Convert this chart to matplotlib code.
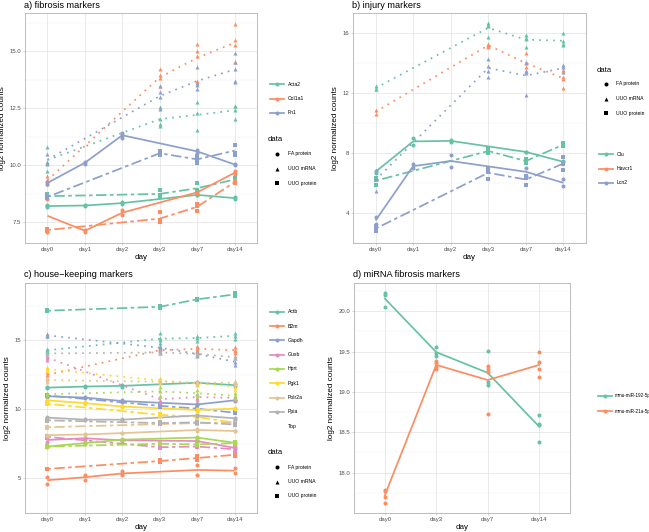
import matplotlib
matplotlib.use("Agg")
import matplotlib.pyplot as plt
from matplotlib.lines import Line2D
import numpy as np

plt.rcParams['font.family'] = ['Liberation Sans', 'DejaVu Sans']

# ---------------- data ----------------
ALL_DAYS = ["day0", "day1", "day2", "day3", "day7", "day14"]
FA_DAYS = ["day0", "day1", "day2", "day7", "day14"]
UUO_DAYS = ["day0", "day3", "day7", "day14"]
MIR_DAYS = ["day0", "day3", "day7", "day14"]
DATA_TYPES = ["FA protein", "UUO mRNA", "UUO protein"]

# a) fibrosis markers (replicate values per day)
ACTA2 = {
    "FA protein": [[8.15, 8.2, 8.25], [8.2, 8.25], [8.28, 8.38], [8.68, 8.7], [8.5, 8.6]],
    "UUO mRNA": [[10.8, 10.1, 9.75], [12.55, 12.0, 11.8, 11.7], [12.75, 12.3, 11.55], [12.6, 12.6, 12.4, 12.0]],
    "UUO protein": [[8.75, 8.6, 8.55], [8.9, 8.7, 8.6], [9.2, 8.9, 8.85], [9.45, 9.35, 9.3]],
}
COL1A1 = {
    "FA protein": [[8.5, 7.05], [7.15, 7.08], [8.02, 7.8], [8.82, 8.78], [9.6, 9.72]],
    "UUO mRNA": [[9.5, 9.35, 9.15], [14.2, 13.95, 13.8, 13.45], [15.3, 15.0, 14.8, 13.7], [16.2, 15.5, 15.25, 14.5]],
    "UUO protein": [[7.2, 7.1], [7.92, 7.55, 7.48], [8.3, 8.2, 8.0], [9.3, 9.25, 9.2]],
}
FN1 = {
    "FA protein": [[9.25, 9.18], [10.15, 10.05], [11.42, 11.3, 11.2], [10.65, 10.55], [10.05, 10.0]],
    "UUO mRNA": [[10.5, 10.05, 10.15], [13.45, 13.2, 13.0, 12.45], [14.3, 13.6, 13.5, 13.35], [14.9, 14.5, 14.2, 13.7, 13.65]],
    "UUO protein": [[8.65, 8.55], [10.6, 10.5, 10.45], [10.4, 10.25, 10.1], [10.9, 10.45, 10.55]],
}
A_GENES = ["Acta2", "Col1a1", "Fn1"]

# b) injury markers
CLU = {
    "FA protein": [[6.8, 6.7], [9.0, 8.55], [8.9, 8.72], [8.1, 8.05], [7.45, 7.38]],
    "UUO mRNA": [[12.45, 12.3, 12.25], [16.65, 16.55, 16.45, 15.75], [15.85, 15.7, 15.6, 15.1], [16.0, 15.5, 15.25, 15.2]],
    "UUO protein": [[6.35, 6.2, 5.9], [8.3, 8.1, 8.0], [7.6, 7.45, 7.35], [8.7, 8.55, 8.45]],
}
HAVCR1 = {
    "UUO mRNA": [[10.9, 10.6], [15.3, 15.2, 15.15, 15.1], [14.7, 14.05, 13.75, 13.5], [13.55, 13.05, 12.95, 12.35]],
}
LCN2 = {
    "FA protein": [[3.75, 3.25], [7.25, 7.0], [7.88, 7.06], [7.0, 6.5], [6.25, 5.78]],
    "UUO mRNA": [[6.85, 6.3, 5.45], [14.3, 13.8, 13.5, 13.1], [13.45, 13.35, 11.85, 14.0], [13.85, 13.75, 13.4]],
    "UUO protein": [[3.15, 2.82, 2.9], [7.0, 6.75, 6.3], [6.45, 5.9, 6.35], [7.75, 6.85, 7.3]],
}
B_GENES = ["Clu", "Havcr1", "Lcn2"]

# c) house-keeping markers
ACTB = {
    "FA protein": [[11.55, 11.6], [11.6, 11.7], [11.65, 11.75], [11.9, 11.95], [11.7, 11.8]],
    "UUO mRNA": [[14.4, 14.25, 14.2], [15.5, 15.2, 15.0, 14.8], [15.35, 15.2, 14.95], [15.55, 15.35, 15.1]],
    "UUO protein": [[17.1, 17.2], [17.35, 17.45, 17.5], [17.95, 18.0], [18.25, 18.4, 18.35]],
}
B2M = {
    "FA protein": [[5.12, 4.6], [5.25, 4.9], [5.5, 5.3, 5.25], [5.95, 5.25], [5.75, 5.35]],
    "UUO mRNA": [[12.7, 12.5, 12.3], [14.5, 14.35, 14.2, 14.1], [14.6, 14.45, 14.3, 14.2], [14.55, 14.3, 14.2, 14.1]],
    "UUO protein": [[5.7, 5.65], [6.3, 6.2], [6.6, 6.3, 6.5], [6.9, 6.6, 6.6]],
}
GAPDH = {
    "FA protein": [[11.0, 10.9], [10.9, 10.8], [10.65, 10.55], [10.4, 10.3], [10.7, 10.6]],
    "UUO mRNA": [[15.45, 15.35, 15.3], [14.6, 14.45, 14.35], [14.15, 14.0, 13.9], [13.7, 13.45, 13.2]],
    "UUO protein": [[11.05, 10.95], [10.3, 10.2], [10.1, 10.0], [9.8, 9.7]],
}
GUSB = {
    "FA protein": [[7.95, 7.6], [7.95, 7.85], [7.8, 7.7], [7.75, 7.65], [7.25, 7.15]],
    "UUO mRNA": [[13.9, 13.75, 13.6], [10.95, 10.7, 10.55], [11.1, 10.85, 10.7], [11.0, 10.8, 10.7]],
    "UUO protein": [[8.05, 7.95], [7.3, 7.2], [7.35, 7.25], [7.3, 6.9]],
}
HPRT = {
    "FA protein": [[7.35, 7.25], [7.6, 7.5], [7.85, 7.75], [8.0, 7.9], [7.65, 7.5]],
    "UUO mRNA": [[11.15, 11.05], [11.6, 11.3, 11.0], [11.4, 11.1, 11.0], [11.2, 10.95, 10.8]],
    "UUO protein": [[7.35, 7.25], [7.55, 7.45], [7.5, 7.4], [7.6, 7.5]],
}
PGK1 = {
    "FA protein": [[10.7, 10.6], [10.5, 10.4], [10.25, 10.15], [10.0, 9.9], [10.1, 10.0]],
    "UUO mRNA": [[13.1, 12.9, 12.75], [12.25, 12.05, 11.95], [12.0, 11.9, 11.75], [11.95, 11.6, 11.4]],
    "UUO protein": [[10.45, 10.35], [9.65, 9.55], [9.5, 9.4], [9.1, 8.95]],
}
POLR2A = {
    "FA protein": [[8.15, 8.1], [8.2, 8.15], [8.3, 8.25], [8.55, 8.45], [8.45, 8.4]],
    "UUO mRNA": [[12.25, 12.1, 12.0], [12.1, 12.0, 11.9], [12.05, 11.95, 11.85], [12.05, 11.9, 11.8]],
    "UUO protein": [[8.75, 8.65], [8.95, 8.9], [9.05, 8.95], [9.1, 9.0]],
}
PPIA = {
    "FA protein": [[9.45, 9.35], [9.3, 9.2], [9.3, 9.2], [9.6, 9.5], [9.4, 9.3]],
    "UUO mRNA": [[14.1, 14.0], [14.2, 14.05], [14.1, 13.95], [13.85, 13.7]],
    "UUO protein": [[9.25, 9.15], [9.05, 8.95], [9.1, 9.0], [8.95, 8.85]],
}
C_GENES = ["Actb", "B2m", "Gapdh", "Gusb", "Hprt", "Pgk1", "Polr2a", "Ppia", "Tbp"]

# d) miRNA fibrosis markers
MIR192 = [[20.22, 20.2, 20.05], [19.56, 19.48, 19.44], [19.51, 19.12, 19.08], [18.71, 18.6, 18.59, 18.38]]
MIR21A = [[17.78, 17.77, 17.7, 17.63], [19.38, 19.36, 19.31, 19.29], [19.32, 19.29, 19.25, 18.73], [19.49, 19.37, 19.29, 19.19]]
D_GENES = ["mmu-miR-192-5p", "mmu-miR-21a-5p"]

# ---------------- style ----------------
SET2 = ["#66C2A5", "#FC8D62", "#8DA0CB", "#E78AC3", "#A6D854", "#FFD92F", "#E5C494", "#B3B3B3"]
LINESTYLE = {"FA protein": "-", "UUO mRNA": (0, (1, 3)), "UUO protein": (0, (2, 2, 6, 2))}
MARKER = {"FA protein": "o", "UUO mRNA": "^", "UUO protein": "s"}
DAYS_FOR = {"FA protein": FA_DAYS, "UUO mRNA": UUO_DAYS, "UUO protein": UUO_DAYS}
LW = 1.25
MS = 2.9
LEG_FS = 3.7

W, H = 649, 532
fig = plt.figure(figsize=(W / 100, H / 100), dpi=100)


def px_axes(l, t, r, b):
    return fig.add_axes([l / W, 1 - b / H, (r - l) / W, (b - t) / H])


def fy(y):
    return 1 - y / H


def style_axes(ax, xcats, ylim, yticks, ylabels, yminor):
    ax.set_xlim(-0.6, len(xcats) - 0.4)
    ax.set_ylim(*ylim)
    ax.set_xticks(range(len(xcats)))
    ax.set_xticklabels(xcats)
    ax.set_yticks(yticks)
    ax.set_yticklabels(ylabels)
    ax.set_yticks(yminor, minor=True)
    ax.grid(which="major", color="#DEDEDE", lw=0.45)
    ax.grid(which="minor", axis="y", color="#EEEEEE", lw=0.3)
    ax.set_axisbelow(True)
    for s in ax.spines.values():
        s.set_color("#B3B3B3")
        s.set_linewidth(0.6)
    ax.tick_params(which="major", colors="#B3B3B3", labelcolor="#4D4D4D",
                   labelsize=4.3, length=1.6, width=0.4, pad=1.2)
    ax.tick_params(which="minor", length=0)
    ax.set_xlabel("day", fontsize=5.8, labelpad=1.5)
    ax.set_ylabel("log2 normalized counts", fontsize=5.9, labelpad=2.5)


def draw_gene(ax, series, color, xcats):
    for dtype, reps in series.items():
        days = DAYS_FOR[dtype]
        xs = [xcats.index(d) for d in days]
        means = [np.mean(r) for r in reps]
        ax.plot(xs, means, color=color, lw=LW, linestyle=LINESTYLE[dtype],
                dash_capstyle="butt", solid_capstyle="butt", zorder=2)
        for x, r in zip(xs, reps):
            ax.plot([x] * len(r), r, linestyle="none", marker=MARKER[dtype],
                    ms=MS, color=color, mew=0, zorder=3)


def legend_color(x, ys, labels, colors, fs=LEG_FS, tx=17.5):
    for y, lab, col in zip(ys, labels, colors):
        if col is not None:
            fig.add_artist(Line2D([x / W, (x + 14) / W], [fy(y), fy(y)], color=col,
                                  lw=LW, transform=fig.transFigure))
            fig.add_artist(Line2D([(x + 7) / W], [fy(y)], color=col, marker="o", ms=MS,
                                  mew=0, transform=fig.transFigure))
        fig.text((x + tx) / W, fy(y), lab, fontsize=fs, va="center", ha="left")


def legend_data(x, ytitle, ys):
    fig.text((x - 2) / W, fy(ytitle), "data", fontsize=5.5, va="center", ha="left")
    for y, dtype in zip(ys, DATA_TYPES):
        fig.add_artist(Line2D([(x + 7) / W], [fy(y)], color="black", marker=MARKER[dtype],
                              ms=MS, mew=0, transform=fig.transFigure))
        fig.text((x + 17.5) / W, fy(y), dtype, fontsize=LEG_FS, va="center", ha="left")


# ---------------- panel a ----------------
axa = px_axes(25, 13, 257, 243)
for gene, col in zip([ACTA2, COL1A1, FN1], SET2):
    draw_gene(axa, gene, col, ALL_DAYS)
style_axes(axa, ALL_DAYS, (6.58, 16.67), [7.5, 10, 12.5, 15],
           ["7.5", "10.0", "12.5", "15.0"], [8.75, 11.25, 13.75, 16.25])
fig.text(24 / W, fy(5.5), "a) fibrosis markers", fontsize=6.6, va="center", ha="left")
legend_color(270, [84, 98.5, 113], A_GENES, SET2[:3])
legend_data(270, 140, [154, 168.5, 183])

# ---------------- panel b ----------------
axb = px_axes(353, 13, 586, 243)
for gene, col in zip([CLU, HAVCR1, LCN2], SET2):
    draw_gene(axb, gene, col, ALL_DAYS)
style_axes(axb, ALL_DAYS, (2.13, 17.34), [4, 8, 12, 16],
           ["4", "8", "12", "16"], [2, 6, 10, 14])
fig.text(352 / W, fy(5.5), "b) injury markers", fontsize=6.6, va="center", ha="left")
legend_data(599, 70, [84, 98.5, 113])
legend_color(599, [154, 168.5, 182.5], B_GENES, SET2[:3])

# ---------------- panel c ----------------
axc = px_axes(25, 283, 257, 513)
c_series = [ACTB, B2M, GAPDH, GUSB, HPRT, PGK1, POLR2A, PPIA]
for gene, col in zip(c_series, SET2):
    draw_gene(axc, gene, col, ALL_DAYS)
style_axes(axc, ALL_DAYS, (2.48, 19.16), [5, 10, 15], ["5", "10", "15"],
           [2.5, 7.5, 12.5, 17.5])
fig.text(24 / W, fy(274.5), "c) house\u2212keeping markers", fontsize=6.6, va="center", ha="left")
c_cols = SET2 + [None]
legend_color(270, [311.7 + 14.3 * i for i in range(len(C_GENES))], C_GENES, c_cols)
legend_data(270, 452.7, [467.3, 481.7, 496])

# ---------------- panel d ----------------
axd = px_axes(354, 283, 570, 513)
for reps, col in zip([MIR192, MIR21A], SET2):
    xs = list(range(len(MIR_DAYS)))
    axd.plot(xs, [np.mean(r) for r in reps], color=col, lw=LW, zorder=2)
    for x, r in zip(xs, reps):
        axd.plot([x] * len(r), r, linestyle="none", marker="o", ms=MS, color=col, mew=0, zorder=3)
style_axes(axd, MIR_DAYS, (17.5, 20.35), [18.0, 18.5, 19.0, 19.5, 20.0],
           ["18.0", "18.5", "19.0", "19.5", "20.0"], [17.75, 18.25, 18.75, 19.25, 19.75, 20.25])
fig.text(353 / W, fy(274.5), "d) miRNA fibrosis markers", fontsize=6.6, va="center", ha="left")
legend_color(598, [396, 411], D_GENES, SET2[:2], fs=3.3, tx=16.5)

fig.savefig("out.png", dpi=100, facecolor="white")
